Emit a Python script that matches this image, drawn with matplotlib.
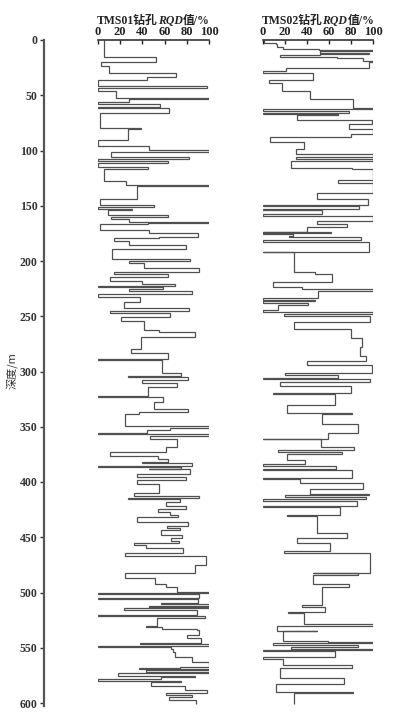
import numpy as np
import matplotlib
matplotlib.use("Agg")
import matplotlib.pyplot as plt
from matplotlib.offsetbox import TextArea, HPacker, AnchoredOffsetbox

# ---- data: RQD (%) per depth interval, interval tops in metres ----
BOTTOM_DEPTH = 601.0

tms01_top = [0, 15.7, 20.2, 23.2, 30.2, 33.2, 36.2, 41.6, 43.7, 45.9, 52.2, 53.7, 56.4, 58.2,
             60.3, 61.2, 66.4, 79.6, 80.8, 90.8, 95.6, 99.5, 101.0, 105.6, 108.0, 109.2, 111.6,
             115.2, 117.0, 127.6, 131.2, 132.1, 144.2, 149.3, 151.4, 153.2, 154.1, 158.4, 160.5,
             162.0, 164.4, 165.9, 166.8, 171.9, 174.4, 178.0, 179.5, 181.9, 185.5, 189.4, 198.5,
             199.7, 202.1, 206.6, 209.7, 212.1, 214.2, 218.1, 221.1, 222.3, 223.2, 225.6, 227.1,
             230.2, 232.9, 236.8, 242.8, 245.2, 247.4, 251.0, 254.3, 262.4, 264.6, 269.1, 279.9,
             283.6, 289.0, 289.6, 301.0, 303.8, 305.3, 307.7, 310.1, 314.3, 322.2, 322.8, 327.3,
             334.2, 337.0, 338.8, 349.3, 351.4, 352.9, 355.4, 356.9, 358.4, 361.4, 368.0, 373.2,
             376.5, 379.2, 382.2, 383.1, 385.5, 386.7, 388.0, 388.5, 392.8, 395.2, 398.2, 401.8,
             410.3, 412.7, 414.2, 415.1, 418.4, 421.7, 424.7, 426.9, 429.9, 432.0, 436.5, 439.5,
             441.3, 443.4, 448.0, 451.0, 453.4, 455.5, 457.0, 460.0, 464.6, 467.0, 475.1, 482.7,
             487.2, 492.6, 494.7, 499.8, 500.8, 501.5, 505.3, 505.9, 509.2, 510.4, 511.9, 513.4,
             514.3, 515.8, 520.4, 521.0, 523.4, 530.0, 530.9, 533.0, 533.9, 538.5, 540.9, 546.0,
             546.9, 548.4, 549.0, 551.4, 553.5, 558.0, 562.6, 567.1, 568.0, 569.2, 570.1, 571.6,
             573.2, 575.3, 576.2, 578.3, 579.8, 581.3, 584.3, 588.2, 590.6, 592.8, 594.9, 597.3]
tms01_rqd = [5, 52, 3, 10, 70, 44, 0, 98, 0, 16, 100, 28, 0, 56,
             0, 64, 2, 39, 27, 0, 46, 100, 12, 82, 0, 63, 0,
             45, 5, 25, 100, 35, 2, 50, 0, 31, 9, 63, 12,
             28, 100, 45, 2, 46, 90, 55, 14, 28, 79, 13, 83,
             28, 41, 91, 14, 63, 11, 40, 69, 0, 59, 28, 85,
             0, 38, 23, 82, 11, 65, 21, 41, 55, 87, 39, 30,
             63, 0, 58, 75, 27, 81, 40, 71, 45, 0, 59, 50,
             81, 37, 24, 100, 65, 44, 0, 100, 47, 71, 61, 11,
             54, 63, 40, 85, 0, 75, 46, 83, 35, 79, 35, 55,
             32, 91, 27, 74, 61, 79, 54, 65, 72, 35, 81, 62,
             74, 57, 76, 66, 73, 32, 43, 77, 24, 97, 87, 24,
             51, 61, 71, 100, 0, 91, 0, 90, 57, 100, 46, 100,
             23, 89, 0, 96, 53, 43, 58, 89, 91, 80, 93, 38,
             100, 0, 66, 68, 69, 85, 100, 74, 37, 100, 43, 100,
             18, 87, 57, 0, 75, 48, 78, 98, 61, 85, 64, 88]

tms02_top = [0, 2.4, 3.9, 6.0, 7.8, 9.0, 10.2, 11.5, 12.7, 13.6, 15.1, 16.6, 19.0, 20.2,
             25.6, 27.8, 30.2, 36.2, 39.2, 46.2, 53.4, 61.8, 62.7, 64.0, 66.4, 67.3, 67.9,
             72.4, 76.0, 80.5, 85.4, 87.5, 92.0, 98.9, 103.5, 105.6, 108.0, 109.2, 115.5,
             117.0, 126.7, 129.7, 138.5, 143.9, 149.3, 150.2, 152.9, 153.8, 157.8, 159.0,
             163.5, 166.8, 169.5, 173.5, 173.9, 174.4, 175.6, 177.1, 178.0, 181.0, 183.1,
             191.6, 192.2, 209.7, 211.8, 218.7, 223.8, 225.6, 226.8, 233.8, 235.3, 236.2,
             237.7, 239.8, 244.3, 246.1, 247.9, 249.8, 255.5, 261.5, 269.4, 277.5, 285.7,
             290.5, 294.1, 301.7, 303.2, 306.2, 307.1, 309.5, 313.4, 319.8, 320.7, 330.3,
             337.9, 338.8, 347.5, 355.4, 361.1, 361.4, 368.0, 371.0, 372.5, 374.7, 380.0,
             383.7, 385.2, 388.2, 389.1, 396.7, 397.6, 401.2, 406.6, 410.9, 411.8, 413.9,
             415.7, 416.9, 421.7, 422.3, 429.9, 430.5, 445.9, 451.0, 455.5, 462.1, 464.6,
             482.1, 482.7, 484.2, 492.3, 495.3, 511.3, 512.8, 517.9, 518.9, 528.8, 530.0,
             534.5, 535.1, 543.6, 544.5, 546.0, 547.5, 549.6, 551.1, 552.0, 552.6, 558.7,
             560.2, 565.9, 568.6, 577.7, 582.8, 589.7, 590.6]
tms02_rqd = [1, 12, 13, 18, 51, 100, 52, 96, 52, 15, 67, 91, 100, 96,
             21, 0, 45, 5, 17, 43, 82, 100, 0, 78, 0, 68, 31,
             99, 78, 100, 80, 6, 37, 30, 100, 30, 100, 25, 81,
             100, 68, 100, 49, 95, 0, 87, 0, 54, 0, 100,
             49, 76, 40, 0, 62, 0, 27, 24, 89, 0, 96,
             0, 28, 47, 63, 9, 35, 100, 50, 0, 47, 0,
             41, 14, 0, 100, 19, 97, 28, 80, 90, 88, 94,
             40, 99, 20, 68, 0, 97, 15, 80, 9, 65, 22,
             81, 54, 86, 59, 0, 53, 83, 14, 72, 22, 38,
             0, 66, 0, 81, 0, 34, 91, 43, 96, 20, 94,
             0, 85, 0, 70, 22, 49, 76, 31, 61, 19, 97,
             45, 86, 45, 78, 54, 35, 56, 23, 37, 100, 13,
             49, 18, 59, 100, 9, 86, 25, 100, 0, 65, 0,
             18, 81, 15, 74, 12, 82, 28]

panel_titles = ["TMS01", "TMS02"]
depth_ticks = list(range(0, 601, 50))
rqd_ticks = [0, 20, 40, 60, 80, 100]

# ---- styling ----
SERIF = ["Liberation Serif", "Noto Sans CJK SC"]
LINE_COLOR = "#505050"
W, H = 399, 718
DEPTH_MAX = 603.0
TOP_PX, PX_PER_M = 40, 1.105

fig = plt.figure(figsize=(W / 100, H / 100), dpi=100)
fig.patch.set_facecolor("white")

bottom_px = TOP_PX + DEPTH_MAX * PX_PER_M
ax_bot = 1 - bottom_px / H
ax_h = (bottom_px - TOP_PX) / H

# shared depth axis (only its left spine is shown)
ax0 = fig.add_axes([44 / W, ax_bot, 0.01, ax_h])
ax0.set_ylim(DEPTH_MAX, 0)
for s in ["top", "right", "bottom"]:
    ax0.spines[s].set_visible(False)
ax0.spines["left"].set_color("#555555")
ax0.spines["left"].set_linewidth(1.6)
ax0.set_xticks([])
ax0.set_yticks(depth_ticks)
ax0.tick_params(axis="y", direction="out", length=3, width=1, pad=1.5,
                labelsize=8.5, colors="#333333")
for lab in ax0.get_yticklabels():
    lab.set_fontfamily(SERIF)
    lab.set_fontweight("bold")
ax0.patch.set_visible(False)

fig.text(12 / W, 1 - 371 / H, "深度/m", rotation=90, ha="center", va="center",
         fontsize=8, family=["Noto Sans CJK SC", "Liberation Serif"], color="#333333")

panels = [
    (98, 209, tms01_top, tms01_rqd, panel_titles[0]),
    (263, 373, tms02_top, tms02_rqd, panel_titles[1]),
]

for x0, x1, tops, rqd, name in panels:
    ax = fig.add_axes([x0 / W, ax_bot, (x1 - x0) / W, ax_h])
    edges = np.array(tops + [BOTTOM_DEPTH])
    ax.stairs(np.array(rqd, dtype=float), edges, orientation="horizontal",
              baseline=None, color=LINE_COLOR, linewidth=0.9)
    ax.set_xlim(0, 100)
    ax.set_ylim(DEPTH_MAX, 0)
    for s in ["left", "right", "bottom"]:
        ax.spines[s].set_visible(False)
    ax.spines["top"].set_linewidth(1.2)
    ax.spines["top"].set_color("#333333")
    ax.xaxis.tick_top()
    ax.set_xticks(rqd_ticks)
    ax.set_yticks([])
    ax.tick_params(axis="x", direction="in", length=3, width=1, pad=1.5,
                   labelsize=9, colors="#222222")
    for lab in ax.get_xticklabels():
        lab.set_fontfamily(SERIF)
        lab.set_fontweight("bold")
    ax.patch.set_visible(False)

    # title: "<name>钻孔RQD值/%" with italic RQD
    props = dict(fontsize=8.5, fontweight="bold", color="#222222")
    pieces = [
        TextArea(name + "钻孔", textprops=dict(family=SERIF, **props)),
        TextArea("RQD", textprops=dict(family=SERIF, style="italic", **props)),
        TextArea("值/%", textprops=dict(family=SERIF, **props)),
    ]
    pack = HPacker(children=pieces, pad=0, sep=0, align="baseline")
    title_y = 1 + (TOP_PX - 21) / (bottom_px - TOP_PX)
    box = AnchoredOffsetbox(loc="center", child=pack, pad=0, borderpad=0,
                            frameon=False, bbox_to_anchor=(0.5, title_y),
                            bbox_transform=ax.transAxes)
    ax.add_artist(box)

plt.savefig("out.png", dpi=100, facecolor="white")
plt.close()
